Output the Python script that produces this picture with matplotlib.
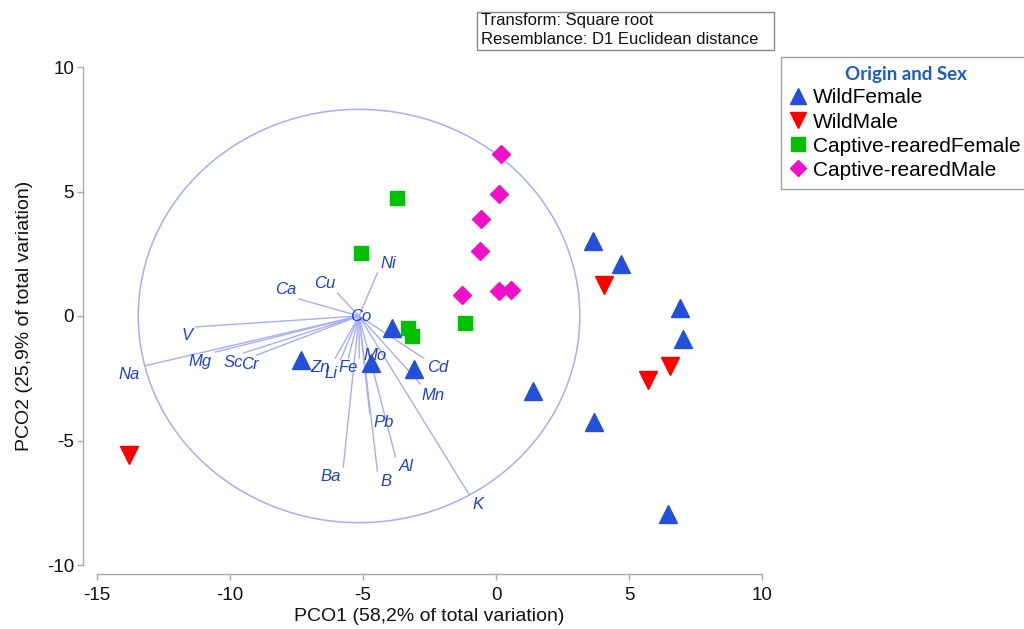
import matplotlib
matplotlib.use("Agg")
import matplotlib.pyplot as plt
from matplotlib.patches import Ellipse, Rectangle
from matplotlib.lines import Line2D

# ---------------- data ----------------
wild_female_x = [-7.32, -3.9, -4.7, -3.1, 1.38, 3.65, 4.69, 6.91, 7.02, 3.67, 6.46]
wild_female_y = [-1.77, -0.48, -1.87, -2.13, -3.01, 3.0, 2.09, 0.32, -0.92, -4.26, -7.95]

wild_male_x = [-13.78, 4.05, 6.53, 5.70]
wild_male_y = [-5.58, 1.24, -2.0, -2.57]

captive_female_x = [-3.71, -5.06, -1.18, -3.3, -3.14]
captive_female_y = [4.74, 2.53, -0.28, -0.48, -0.80]

captive_male_x = [0.17, 0.10, -0.58, -0.62, -1.26, 0.10, 0.55]
captive_male_y = [6.5, 4.9, 3.9, 2.6, 0.84, 1.0, 1.04]

vector_names = ["Ni", "Cu", "Ca", "V", "Na", "Mg", "Sc", "Cr", "Zn", "Li", "Fe",
                "Mo", "Pb", "Al", "B", "Ba", "K", "Mn", "Cd", "Co"]
vector_x = [-4.46, -5.96, -7.40, -11.3, -13.2, -10.55, -9.5, -9.0, -6.04, -5.85, -5.55,
            -5.14, -4.75, -3.78, -4.46, -5.74, -1.0, -2.84, -2.72, -5.10]
vector_y = [1.73, 0.92, 0.68, -0.44, -2.0, -1.45, -1.49, -1.57, -1.69, -1.77, -1.69,
            -1.69, -3.9, -5.66, -6.22, -6.06, -7.19, -2.73, -1.69, -0.02]
vector_origin = (-5.15, 0.0)
circle_radius = 8.3

x_ticks = [-15, -10, -5, 0, 5, 10]
y_ticks = [-10, -5, 0, 5, 10]

# label offsets (points) relative to vector end - style only
label_offsets = {
    "Ni": (8, 7), "Cu": (-9, 7), "Ca": (-10, 7), "V": (-6, -6), "Na": (-11, -6.5),
    "Mg": (-11, -7), "Sc": (-7, -7), "Cr": (-5, -7), "Zn": (-11, -7), "Li": (-7, -10),
    "Fe": (0, -7), "Mo": (11.5, 1.5), "Pb": (10, -6.5), "Al": (8, -7), "B": (6.5, -8),
    "Ba": (-9, -7), "K": (6, -6.5), "Mn": (9, -8), "Cd": (10, -7), "Co": (0, 0),
}

# ---------------- figure ----------------
plt.rcParams['font.family'] = ['Liberation Sans', 'DejaVu Sans']
plt.rcParams['axes.unicode_minus'] = False
fig = plt.figure(figsize=(10.24, 6.29), dpi=100)
ax = fig.add_axes([97/1024, 64/629, 665/1024, 498/629])
ax.set_xlim(-15, 10)
ax.set_ylim(-10, 10)

vec_line = "#a6aef8"
vec_text = "#1f3fd6"

# circle
circ = Ellipse(vector_origin, 2*circle_radius, 2*circle_radius, fill=False,
               ec=vec_line, lw=1.1, zorder=1)
ax.add_patch(circ)

# vectors
for name, vx, vy in zip(vector_names, vector_x, vector_y):
    ax.plot([vector_origin[0], vx], [vector_origin[1], vy], color=vec_line, lw=1.0, zorder=1)
    dx, dy = label_offsets[name]
    ax.annotate(name, (vx, vy), xytext=(dx, dy), textcoords='offset points',
                ha='center', va='center', fontsize=12, style='italic',
                color=vec_text, zorder=2)

# points
ax.plot(wild_female_x, wild_female_y, linestyle='none', marker='^', ms=13,
        color='#2450d9', mec='#2450d9', zorder=3, clip_on=False)
ax.plot(wild_male_x, wild_male_y, linestyle='none', marker='v', ms=13,
        color='#ff0000', mec='#ff0000', zorder=3, clip_on=False)
ax.plot(captive_female_x, captive_female_y, linestyle='none', marker='s', ms=10.5,
        color='#00c000', mec='#00c000', zorder=3, clip_on=False)
ax.plot(captive_male_x, captive_male_y, linestyle='none', marker='D', ms=9,
        color='#f010c8', mec='#f010c8', zorder=3, clip_on=False)

# axes styling
for s in ['top', 'right']:
    ax.spines[s].set_visible(False)
ax.spines['left'].set_position(('outward', 10))
ax.spines['bottom'].set_position(('outward', 6.5))
ax.spines['left'].set_bounds(-10, 10)
ax.spines['bottom'].set_bounds(-15, 10)
for s in ['left', 'bottom']:
    ax.spines[s].set_color('#aaaaaa')
    ax.spines[s].set_linewidth(1.0)
ax.set_xticks(x_ticks)
ax.set_yticks(y_ticks)
ax.tick_params(axis='both', colors='#aaaaaa', labelcolor='#111111', labelsize=13.5,
               length=4.5, width=1.0, direction='out', pad=2)
ax.tick_params(axis='x', pad=5)
ax.set_xlabel("PCO1 (58,2% of total variation)", fontsize=14, color='#111111', labelpad=3)
ax.set_ylabel("PCO2 (25,9% of total variation)", fontsize=14, color='#111111', labelpad=10)

# info box
fig.patches.append(Rectangle((477/1024, 1-50/629), (774-477)/1024, 38/629,
                             transform=fig.transFigure, fill=False, ec='#888888', lw=1.0))
fig.text(481/1024, 1-21/629, "Transform: Square root", fontsize=12, va='center', ha='left',
         color='#111111')
fig.text(481/1024, 1-40/629, "Resemblance: D1 Euclidean distance", fontsize=12,
         va='center', ha='left', color='#111111')

# legend
handles = [
    Line2D([], [], linestyle='none', marker='^', ms=12, color='#2450d9', label='WildFemale'),
    Line2D([], [], linestyle='none', marker='v', ms=12, color='#ff0000', label='WildMale'),
    Line2D([], [], linestyle='none', marker='s', ms=10, color='#00c000', label='Captive-rearedFemale'),
    Line2D([], [], linestyle='none', marker='D', ms=8.5, color='#f010c8', label='Captive-rearedMale'),
]
leg = fig.legend(handles=handles, loc='upper left', bbox_to_anchor=(781/1024, 1-57/629),
                 bbox_transform=fig.transFigure, fontsize=15, frameon=True, fancybox=False,
                 edgecolor='#888888', handlelength=0.75, handletextpad=0.35,
                 labelspacing=0.245, borderpad=0.45, borderaxespad=0,
                 title="Origin and Sex",
                 title_fontproperties={'family': 'Lato', 'weight': 'bold', 'size': 13.5})
leg.get_title().set_color('#1f5bc4')
leg.get_frame().set_linewidth(1.0)

fig.savefig("out.png", dpi=100)
